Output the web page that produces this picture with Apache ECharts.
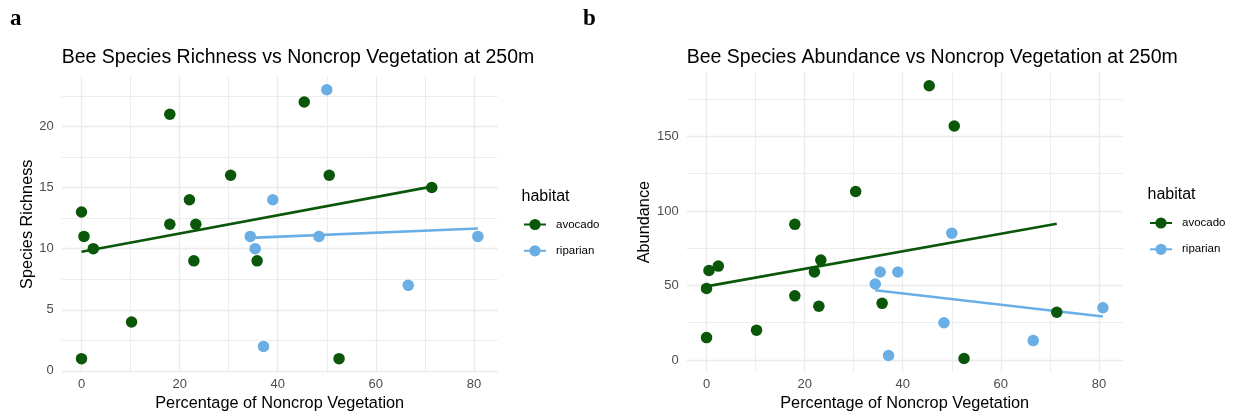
<!DOCTYPE html>
<html>
<head>
<meta charset="utf-8">
<script src="https://cdn.jsdelivr.net/npm/echarts@6/dist/echarts.min.js"></script>
<style>
html,body{margin:0;padding:0;background:#fff;}
#chart{width:1238px;height:417px;}
</style>
</head>
<body>
<div id="chart"></div>
<script>
// ---- data ----
const avocadoX = [0, 0.5, 2.4, 0, 10.2, 18, 18, 22, 23.3, 22.9, 30.4, 35.8, 45.4, 50.5, 71.4, 52.5];
const avocadoRichness = [13, 11, 10, 1, 4, 21, 12, 14, 12, 9, 16, 9, 22, 16, 15, 1];
const avocadoAbundance = [48, 60, 63, 15, 20, 91, 43, 59, 67, 36, 113, 38, 184, 157, 32, 1];
const riparianX = [39, 34.4, 35.4, 37.1, 50, 48.4, 66.6, 80.8];
const riparianRichness = [14, 11, 10, 2, 23, 11, 7, 11];
const riparianAbundance = [59, 51, 59, 3, 85, 25, 13, 35];

const xMajorTicks = [0, 20, 40, 60, 80];
const xMinorTicks = [10, 30, 50, 70];
const richMajorTicks = [0, 5, 10, 15, 20];
const richMinorTicks = [2.5, 7.5, 12.5, 17.5, 22.5];
const abundMajorTicks = [0, 50, 100, 150];
const abundMinorTicks = [25, 75, 125, 175];

const habitats = ['avocado', 'riparian'];
const titles = ['Bee Species Richness vs Noncrop Vegetation at 250m', 'Bee Species Abundance vs Noncrop Vegetation at 250m'];
const yNames = ['Species Richness', 'Abundance'];
const xName = 'Percentage of Noncrop Vegetation';
const panelLetters = ['a', 'b'];

// ---- helpers ----
const COLORS = {avocado: '#0a570a', riparian: '#6aaee6'};
const FONT = 'Liberation Sans, Arial, sans-serif';

function zip(xs, ys) { return xs.map((x, i) => [x, ys[i]]); }
function linFit(xs, ys) {
  const n = xs.length;
  const mx = xs.reduce((a, b) => a + b, 0) / n;
  const my = ys.reduce((a, b) => a + b, 0) / n;
  let sxy = 0, sxx = 0;
  for (let i = 0; i < n; i++) { sxy += (xs[i] - mx) * (ys[i] - my); sxx += (xs[i] - mx) ** 2; }
  const b = sxy / sxx, a = my - b * mx;
  const x0 = Math.min(...xs), x1 = Math.max(...xs);
  return [[x0, a + b * x0], [x1, a + b * x1]];
}
function expand(vals) {
  const lo = Math.min(...vals), hi = Math.max(...vals), d = (hi - lo) * 0.05;
  return [lo - d, hi + d];
}

const allX = avocadoX.concat(riparianX);
const xRange = expand(allX);
const panels = [
  {grid: {left: 61.7, top: 76.3, width: 436, height: 297.6},
   avoY: avocadoRichness, ripY: riparianRichness, major: richMajorTicks, minor: richMinorTicks,
   yRange: expand(avocadoRichness.concat(riparianRichness)), nameGap: 25,
   legendLeft: 523, legendTop: 217.5, legendTitle: [521.5, 196]},
  {grid: {left: 686.7, top: 72.1, width: 436, height: 301.1},
   avoY: avocadoAbundance, ripY: riparianAbundance, major: abundMajorTicks, minor: abundMinorTicks,
   yRange: expand(avocadoAbundance.concat(riparianAbundance)), nameGap: 34,
   legendLeft: 1149, legendTop: 216, legendTitle: [1147.5, 194]}
];

const grid = [], xAxis = [], yAxis = [], series = [], legend = [], title = [];
const gridLine = (w) => ({show: true, lineStyle: {color: '#ebebeb', width: w}});

panels.forEach((p, k) => {
  grid.push(p.grid);
  xAxis.push({
    gridIndex: k, type: 'value', min: xRange[0], max: xRange[1],
    axisLine: {show: false}, axisTick: {show: false, customValues: xMajorTicks},
    axisLabel: {customValues: xMajorTicks, color: '#4d4d4d', fontSize: 13, fontFamily: FONT, margin: 6},
    splitLine: gridLine(1.3),
    name: xName, nameLocation: 'middle', nameGap: 21,
    nameTextStyle: {fontSize: 16.3, color: '#000', fontFamily: FONT}
  });
  xAxis.push({
    gridIndex: k, type: 'value', min: xRange[0], max: xRange[1], position: 'top',
    axisLine: {show: false}, axisTick: {show: false, customValues: xMinorTicks},
    axisLabel: {show: false}, splitLine: gridLine(0.9)
  });
  yAxis.push({
    gridIndex: k, type: 'value', min: p.yRange[0], max: p.yRange[1],
    axisLine: {show: false}, axisTick: {show: false, customValues: p.major},
    axisLabel: {customValues: p.major, color: '#4d4d4d', fontSize: 13, fontFamily: FONT, margin: 8},
    splitLine: gridLine(1.3),
    name: yNames[k], nameLocation: 'middle', nameGap: p.nameGap, nameRotate: 90,
    nameTextStyle: {fontSize: 16.3, color: '#000', fontFamily: FONT}
  });
  yAxis.push({
    gridIndex: k, type: 'value', min: p.yRange[0], max: p.yRange[1], position: 'right',
    axisLine: {show: false}, axisTick: {show: false, customValues: p.minor},
    axisLabel: {show: false}, splitLine: gridLine(0.9)
  });
  const xi = k * 2, yi = k * 2;
  const groups = {
    avocado: [avocadoX, p.avoY],
    riparian: [riparianX, p.ripY]
  };
  habitats.forEach((h) => {
    series.push({
      type: 'line', name: h, xAxisIndex: xi, yAxisIndex: yi,
      data: linFit(groups[h][0], groups[h][1]),
      symbol: 'circle', showSymbol: false, silent: true, z: 3,
      itemStyle: {color: COLORS[h]}, lineStyle: {color: COLORS[h], width: 2.6}
    });
  });
  habitats.forEach((h) => {
    series.push({
      type: 'scatter', name: h, xAxisIndex: xi, yAxisIndex: yi,
      data: zip(groups[h][0], groups[h][1]),
      symbolSize: 11.5, z: 4, itemStyle: {color: COLORS[h], opacity: 1}
    });
  });
  legend.push({
    orient: 'vertical', left: p.legendLeft, top: p.legendTop, padding: 0,
    data: habitats, itemWidth: 22, itemHeight: 14, itemGap: 12.3,
    textStyle: {fontSize: 11.5, color: '#000', fontFamily: FONT, padding: [0, 0, 0, 5], lineHeight: 14},
    selectedMode: false
  });
  title.push({
    text: titles[k], left: p.grid.left, top: 48, padding: 0,
    textStyle: {fontSize: 19.5, fontWeight: 'normal', color: '#000', fontFamily: FONT}
  });
});

const graphic = [
  {type: 'text', left: 10, top: 8, style: {text: panelLetters[0], fontSize: 23, fontWeight: 'bold', fontFamily: 'Liberation Serif, Times New Roman, serif', fill: '#000'}},
  {type: 'text', left: 583, top: 8, style: {text: panelLetters[1], fontSize: 23, fontWeight: 'bold', fontFamily: 'Liberation Serif, Times New Roman, serif', fill: '#000'}},
  {type: 'text', left: panels[0].legendTitle[0], top: panels[0].legendTitle[1] - 7, style: {text: 'habitat', fontSize: 16, fontFamily: FONT, fill: '#000'}},
  {type: 'text', left: panels[1].legendTitle[0], top: panels[1].legendTitle[1] - 7, style: {text: 'habitat', fontSize: 16, fontFamily: FONT, fill: '#000'}}
];

const chart = echarts.init(document.getElementById('chart'), null, {renderer: 'canvas'});
chart.setOption({
  animation: false, backgroundColor: '#fff',
  grid, xAxis, yAxis, series, legend, title, graphic
});
</script>
</body>
</html>
